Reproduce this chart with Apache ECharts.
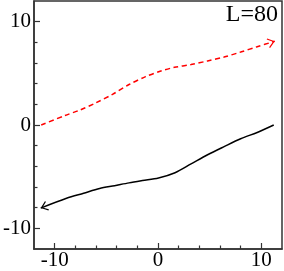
<!DOCTYPE html>
<html><head><meta charset="utf-8">
<script src="https://cdn.jsdelivr.net/npm/echarts@6/dist/echarts.min.js"></script>
<style>html,body{margin:0;padding:0;background:#fff}#c{width:284px;height:271px}</style>
</head><body><div id="c"></div>
<script>
const redX = [-11.3, -9.0, -7.55, -6.0, -4.4, -2.8, -1.2, 0.2, 1.6, 3.2, 4.8, 6.4, 8.0, 9.6, 11.3];
const redY = [0, 0.92, 1.45, 2.15, 2.97, 3.92, 4.68, 5.2, 5.58, 5.85, 6.2, 6.58, 7.06, 7.58, 8.1];
const blackX = [11.2, 9.6, 8.0, 6.4, 4.8, 3.2, 1.65, 0.05, -1.5, -2.8, -4.2, -5.65, -7.2, -8.85, -11.35];
const blackY = [0, -0.72, -1.33, -2.09, -2.88, -3.77, -4.62, -5.13, -5.38, -5.6, -5.87, -6.14, -6.6, -7.09, -8.04];
const xMajor = [-10, 0, 10];
const xMinor = [-8, -6, -4, -2, 2, 4, 6, 8];
const yMajor = [-10, 0, 10];
const yMinor = [-8, -6, -4, -2, 2, 4, 6, 8];
const titleText = 'L=80';

const arrowPath = 'path://M5,2.8L5.01,2.8L5,2.81Z M5,10 L9.9,16.4 L9,17.2 L5,11.9 L1,17.2 L0.1,16.4 Z';

function buildData(xs, ys) {
  const n = xs.length;
  const ang = Math.atan2(ys[n-1] - ys[n-2], xs[n-1] - xs[n-2]) * 180 / Math.PI;
  return xs.map((x, i) => {
    if (i === n - 1) {
      return { value: [x, ys[i]], symbol: arrowPath, symbolSize: [10, 14.4], symbolRotate: ang - 90, symbolKeepAspect: false };
    }
    return { value: [x, ys[i]], symbol: 'none' };
  });
}

const font = 'Liberation Serif';
function mkAxis(major, minor, isX) {
  const base = { type: 'value', min: -12, max: 12, splitLine: { show: false } };
  return [
    Object.assign({}, base, {
      position: isX ? 'bottom' : 'left',
      axisLine: { show: true, onZero: false, lineStyle: { color: '#333', width: 1.5 } },
      axisTick: { show: true, inside: true, length: 6, customValues: major, lineStyle: { color: '#333', width: 1.2 } },
      axisLabel: { show: true, customValues: major, fontFamily: font, fontSize: 21, color: '#000', margin: isX ? 1 : 3 }
    }),
    Object.assign({}, base, {
      position: isX ? 'bottom' : 'left',
      axisLine: { show: false, onZero: false },
      axisTick: { show: true, inside: true, length: 3.5, customValues: minor, lineStyle: { color: '#333', width: 1.2 } },
      axisLabel: { show: false }
    })
  ];
}

const chart = echarts.init(document.getElementById('c'), null, { renderer: 'canvas' });
chart.setOption({
  animation: false,
  backgroundColor: '#fff',
  title: { text: titleText, right: 6, top: 3, padding: 0,
    textStyle: { fontFamily: font, fontSize: 24, fontWeight: 'normal', color: '#000' } },
  grid: { left: 29, right: 2, top: 1, bottom: 18, show: true, borderColor: '#333', borderWidth: 1.5, containLabel: false },
  xAxis: mkAxis(xMajor, xMinor, true),
  yAxis: mkAxis(yMajor, yMinor, false),
  series: [
    { type: 'line', xAxisIndex: 0, yAxisIndex: 0, smooth: 0.3, symbol: 'none',
      data: buildData(redX, redY),
      lineStyle: { color: '#ff0000', width: 1.5, type: [5, 3.5] },
      itemStyle: { color: '#ff0000' } },
    { type: 'line', xAxisIndex: 0, yAxisIndex: 0, smooth: 0.3, symbol: 'none',
      data: buildData(blackX, blackY),
      lineStyle: { color: '#000', width: 1.5 },
      itemStyle: { color: '#000' } }
  ]
});
</script></body></html>
